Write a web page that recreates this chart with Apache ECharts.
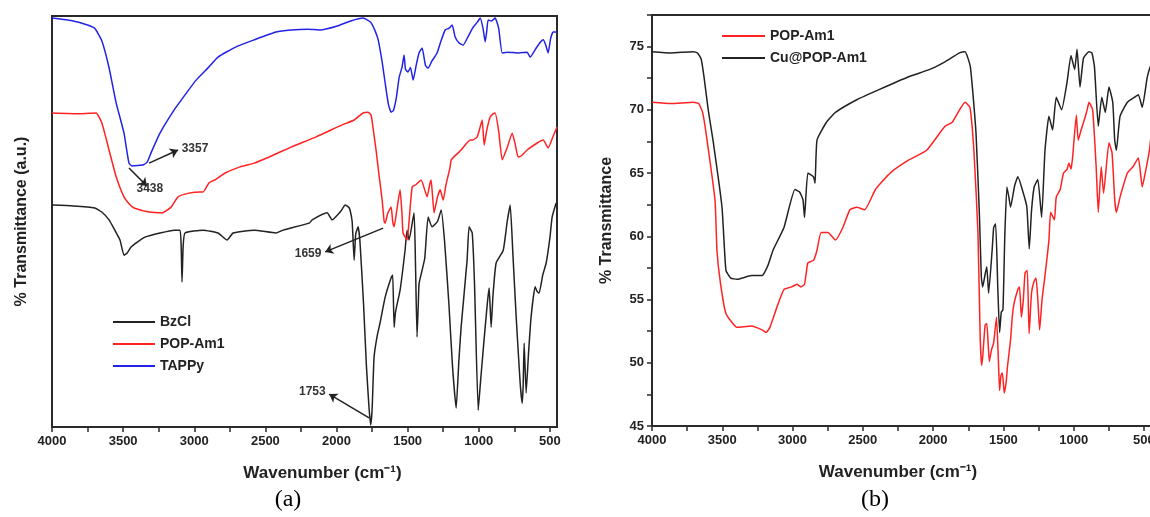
<!DOCTYPE html>
<html>
<head>
<meta charset="utf-8">
<script src="https://cdn.jsdelivr.net/npm/echarts@6/dist/echarts.min.js"></script>
<style>
  html, body { margin: 0; padding: 0; background: #fff; }
  #chart { width: 1150px; height: 517px; }
</style>
</head>
<body>
<div id="chart"></div>
<script>
// panel (a) - stacked spectra, arbitrary units
var tappyWn = [4000,3850,3750,3700,3650,3600,3550,3494,3459,3438,3400,3357,3330,3300,3241,3142,3050,2987,2900,2833,2706,2579,2425,2319,2200,2115,2000,1900,1812,1760,1730,1707,1680,1658,1635,1616,1600,1580,1560,1539,1525,1515,1497,1480,1461,1440,1420,1398,1375,1356,1330,1293,1265,1236,1210,1187,1166,1140,1110,1075,1039,1010,990,970,955,945,934,910,885,860,835,800,720,660,639,600,570,547,530,512,495,477,450];
var tappyT = [99.5,98.8,97.8,97.0,94,87.6,79,71.5,64.2,63.5,63.6,63.8,64.5,67,71.5,77.1,81.5,84.4,87.5,90,92.5,94.2,96.1,96.6,96.8,96.6,97.5,98.8,99.5,98.5,96.5,94.2,89,83.7,78.5,76.6,77,80,85,87.6,90.5,87,86.4,87.5,84.4,88,91,92.2,88,87.3,89,91,94,96.6,97,97.8,94.9,93.5,92.9,95,97.3,98.5,99.5,97,93.7,96,99,98.8,99.5,97,91,91.2,91,91.2,90,92,93.5,94.2,93,91,94.5,96.1,96.1];

var popAWn = [4000,3800,3690,3650,3599,3550,3494,3450,3423,3318,3226,3163,3114,3037,2960,2938,2896,2850,2783,2678,2579,2474,2319,2143,1961,1876,1813,1780,1757,1740,1722,1700,1679,1665,1658,1640,1616,1605,1595,1575,1553,1540,1532,1504,1490,1468,1440,1405,1363,1345,1335,1314,1290,1271,1250,1230,1201,1194,1145,1124,1060,1046,1011,990,976,962,945,920,900,885,860,835,800,765,745,723,700,660,589,547,512,480,450];
var popAT = [76.4,76.2,76.4,74,67.4,61,56,54,53.3,52.3,52.1,53.5,56,56.9,57.2,57.2,59.4,60.2,61.8,63.3,64.2,65.7,68.1,70.6,73.5,74.7,76.4,76.6,75.9,72,67.4,61,55.2,50,49.6,52,53.5,50,48.7,53,57.7,52,47.2,45.5,50,58.4,59,60.1,56,59,60.1,52.1,56,57.7,55.2,59,63.3,65,66.7,67.4,69.8,69.8,70.6,73,74.7,68.6,72,75.4,76.2,76.4,72,65,68,71.5,69,65.7,66,67.4,69.1,69.8,67.9,70.5,73];

var bzclWn = [4000,3850,3700,3650,3599,3560,3522,3494,3473,3444,3400,3346,3241,3142,3100,3092,3086,3078,3065,2938,2833,2769,2727,2579,2425,2375,2192,2171,2066,2031,1970,1939,1915,1905,1890,1876,1865,1848,1835,1810,1790,1772,1760,1750,1736,1715,1694,1658,1616,1605,1595,1585,1553,1518,1504,1490,1455,1445,1434,1425,1419,1380,1356,1328,1290,1264,1240,1210,1185,1159,1140,1124,1082,1068,1046,1030,1004,990,969,940,927,913,900,878,828,800,779,760,737,709,695,688,681,667,650,632,604,590,576,550,526,500,484,456];
var bzclT = [54.0,53.8,53.3,52.3,50.4,48,45.5,41.8,42.3,43.8,45,46.2,47.2,47.9,47.9,44,35.3,44,47.2,47.9,47.2,45.5,47.2,47.9,47.2,47.9,49.6,50.4,52.1,50.4,52.5,54,53.5,52.8,50,40.6,47,48.7,45,30,15,5,0.5,4,17,22,25.3,31.6,36.3,37,24.3,28,33.3,43,47.9,45.5,52.1,40,21.9,30,35,41,51.1,48.7,50,52.8,45,30,15,4.6,16,24.3,40.6,48.7,47.2,35,4.1,10,18.7,30,33.8,24.3,32,39.9,43,50,54,42,26.8,10.7,5.8,10,20.4,8.3,18,26.8,34.1,33,32.6,37,39.9,46,51.1,54.5];

// panel (b) - % transmittance
var cuWn = [4000,3865,3708,3676,3650,3630,3600,3566,3502,3474,3440,3395,3292,3217,3175,3139,3061,2983,2950,2926,2915,2891,2851,2840,2826,2760,2695,2543,2385,2178,2023,1916,1812,1773,1735,1695,1670,1657,1647,1630,1618,1605,1580,1569,1555,1540,1527,1515,1503,1490,1475,1461,1449,1420,1397,1358,1333,1316,1300,1281,1255,1228,1204,1176,1150,1124,1086,1047,1019,993,976,955,930,891,870,852,825,800,775,749,722,708,696,670,618,566,540,512,476,445,400];
var cuT = [74.6,74.5,74.6,74.5,74,72.6,70,67.6,62.3,57.3,56.7,56.6,56.9,56.9,57.7,58.9,60.7,63.7,63.5,62.9,61.5,65,64.7,64.2,67.6,69,69.8,70.8,71.6,72.6,73.2,73.8,74.5,74.6,73.4,68.2,61.5,56.8,56,57,57.6,55.5,58.9,60.7,61,56,52.4,54,54.2,60,63.9,63.1,62.3,64,64.7,63.4,62.3,59,62,63.9,64.5,61.5,66.8,69.5,68.4,71,70,72.2,74.3,73.2,74.8,71.8,74.1,74.6,74.5,73.4,68.7,71,69.8,71.8,70.6,67.6,66.8,69.5,70.6,71,71.2,70.2,72.6,73.7,74.5];

var popBWn = [4000,3865,3708,3668,3640,3616,3552,3538,3513,3474,3395,3292,3217,3189,3161,3111,3061,3006,2969,2941,2915,2891,2851,2826,2797,2748,2695,2642,2592,2543,2487,2410,2306,2178,2046,1916,1866,1812,1773,1738,1710,1681,1665,1655,1647,1630,1618,1600,1585,1569,1549,1535,1527,1517,1507,1494,1480,1471,1449,1437,1424,1397,1385,1372,1358,1346,1330,1317,1300,1283,1268,1255,1242,1225,1205,1176,1164,1137,1124,1096,1072,1047,1034,1019,1007,981,968,947,930,904,891,865,840,825,804,787,749,727,708,696,670,618,578,540,512,491,461,445,400];
var popBT = [70.6,70.5,70.6,70.5,69.8,68.2,62.9,58.9,56.3,53.9,52.8,52.9,52.6,52.4,52.8,54.4,55.8,56,56.2,56,56.2,57.9,58.1,58.9,60.3,60.3,59.7,60.7,62.1,62.3,62.1,63.7,65,66,66.8,68.7,69,70,70.6,70.2,66.8,60.3,52,49.8,50.5,53,53.1,50.1,51,51.6,53.6,50,47.8,49,49.2,47.6,48.5,49.7,51.8,53.6,54.7,55.8,56,53.6,55,57.1,57.3,52.3,55.5,56.4,56.7,55,52.6,55,56.8,59.7,61.9,61.3,63.1,63.7,65,65.3,65.8,65.3,66.3,69.6,67.6,68.4,69,70,70.6,70,65.5,61.9,65.5,63.4,67.4,66.6,62.9,61.9,63.1,65,65.5,66.2,63.9,65,66.8,68.2,70];

var xLabelValues = [500,1000,1500,2000,2500,3000,3500,4000];
var xTickValues = [500,750,1000,1250,1500,1750,2000,2250,2500,2750,3000,3250,3500,3750,4000];
var yLabelValuesB = [45,50,55,60,65,70,75];
var yTickValuesB = [45,47.5,50,52.5,55,57.5,60,62.5,65,67.5,70,72.5,75,77.5];

function pairs(wn, t) {
    return wn.map(function (w, i) { return [w, t[i]]; });
}

var font = 'Liberation Sans, Arial, sans-serif';
var axisColor = '#2a2a2a';

function xAxisOpt(grid, min, max, namePad) {
    return {
        type: 'value',
        gridIndex: grid,
        inverse: true,
        min: min,
        max: max,
        name: 'Wavenumber (cm\u207B\u00B9)',
        nameLocation: 'middle',
        nameGap: 38,
        nameTextStyle: { fontFamily: font, fontWeight: 'bold', fontSize: 17, color: '#222', padding: namePad },
        axisLine: { lineStyle: { color: axisColor, width: 2 } },
        axisTick: { show: true, length: 5, customValues: xTickValues, lineStyle: { color: axisColor, width: 1.5 } },
        axisLabel: {
            customValues: xLabelValues, fontFamily: font, fontWeight: 'bold', fontSize: 13, color: '#222', margin: 8,
            formatter: function (v) { return String(v); }
        },
        splitLine: { show: false }
    };
}

var chart = echarts.init(document.getElementById('chart'));
var option = {
    animation: false,
    backgroundColor: '#fff',
    title: [
        { text: '(a)', left: 283, top: 483, textAlign: 'center',
          textStyle: { fontFamily: 'Liberation Serif, Times New Roman, serif', fontWeight: 'normal', fontSize: 24, color: '#000' } },
        { text: '(b)', left: 870, top: 483, textAlign: 'center',
          textStyle: { fontFamily: 'Liberation Serif, Times New Roman, serif', fontWeight: 'normal', fontSize: 24, color: '#000' } }
    ],
    legend: [
        {
            data: ['BzCl', 'POP-Am1', 'TAPPy'],
            orient: 'vertical',
            left: 108, top: 310,
            icon: 'rect', itemWidth: 42, itemHeight: 2, itemGap: 8,
            textStyle: { fontFamily: font, fontWeight: 'bold', fontSize: 14, color: '#222' }
        },
        {
            data: ['POP-Am1', 'Cu@POP-Am1'],
            orient: 'vertical',
            left: 717, top: 24,
            icon: 'rect', itemWidth: 43, itemHeight: 2, itemGap: 8,
            textStyle: { fontFamily: font, fontWeight: 'bold', fontSize: 14, color: '#222' }
        }
    ],
    grid: [
        { left: 52, width: 505, top: 16, bottom: 90, show: true, borderColor: axisColor, borderWidth: 2,
          containLabel: false, outerBoundsMode: 'none' },
        { left: 652, width: 506, top: 15, bottom: 91, show: true, borderColor: axisColor, borderWidth: 2,
          containLabel: false, outerBoundsMode: 'none' }
    ],
    xAxis: [xAxisOpt(0, 450, 4000, [0, 0, 0, 36]), xAxisOpt(1, 400, 4000, [0, 14, 0, 0])],
    yAxis: [
        {
            type: 'value', gridIndex: 0, min: 0, max: 100,
            name: '% Transmittance (a.u.)',
            nameLocation: 'middle', nameGap: 22,
            nameTextStyle: { fontFamily: font, fontWeight: 'bold', fontSize: 16, color: '#222' },
            axisLine: { show: true, lineStyle: { color: axisColor, width: 2 } },
            axisTick: { show: false },
            axisLabel: { show: false },
            splitLine: { show: false }
        },
        {
            type: 'value', gridIndex: 1, min: 45, max: 77.5, interval: 5,
            name: '% Transmittance',
            nameLocation: 'middle', nameGap: 37,
            nameTextStyle: { fontFamily: font, fontWeight: 'bold', fontSize: 16, color: '#222' },
            axisLine: { show: true, lineStyle: { color: axisColor, width: 2 } },
            axisTick: { show: true, length: 5, customValues: yTickValuesB, lineStyle: { color: axisColor, width: 1.5 } },
            axisLabel: { customValues: yLabelValuesB, fontFamily: font, fontWeight: 'bold', fontSize: 13, color: '#222', margin: 8 },
            splitLine: { show: false }
        }
    ],
    series: [
        {
            name: 'BzCl', type: 'line', xAxisIndex: 0, yAxisIndex: 0,
            data: pairs(bzclWn, bzclT),
            symbol: 'none', smooth: 0.15,
            color: '#222', lineStyle: { color: '#222', width: 1.5 },
            markLine: {
                silent: true, animation: false,
                symbol: ['none', 'arrow'], symbolSize: 8,
                lineStyle: { color: '#222', width: 1.5, type: 'solid' },
                label: { show: true, position: 'end', distance: 4, fontFamily: font, fontWeight: 'bold', fontSize: 12, color: '#333' },
                data: [
                    [{ coord: [3318, 64.2] }, { coord: [3114, 67.4], label: { formatter: '3357' } }],
                    [{ coord: [3459, 63.0] }, { coord: [3332, 58.6], label: { formatter: '3438' } }],
                    [{ coord: [1672, 48.4] }, { coord: [2080, 42.6], label: { formatter: '1659' } }],
                    [{ coord: [1771, 2.2] }, { coord: [2052, 8.0], label: { formatter: '1753' } }]
                ]
            }
        },
        {
            name: 'POP-Am1', type: 'line', xAxisIndex: 0, yAxisIndex: 0,
            data: pairs(popAWn, popAT),
            symbol: 'none', smooth: 0.15,
            color: '#ff2222', lineStyle: { color: '#ff2222', width: 1.5 }
        },
        {
            name: 'TAPPy', type: 'line', xAxisIndex: 0, yAxisIndex: 0,
            data: pairs(tappyWn, tappyT),
            symbol: 'none', smooth: 0.15,
            color: '#2323e6', lineStyle: { color: '#2323e6', width: 1.5 }
        },
        {
            name: 'POP-Am1', type: 'line', xAxisIndex: 1, yAxisIndex: 1,
            data: pairs(popBWn, popBT),
            symbol: 'none', smooth: 0.15,
            color: '#ff2222', lineStyle: { color: '#ff2222', width: 1.5 }
        },
        {
            name: 'Cu@POP-Am1', type: 'line', xAxisIndex: 1, yAxisIndex: 1,
            data: pairs(cuWn, cuT),
            symbol: 'none', smooth: 0.15,
            color: '#222', lineStyle: { color: '#222', width: 1.5 }
        }
    ]
};
chart.setOption(option);
window.addEventListener('resize', function () {
    chart.resize();
});
</script>
</body>
</html>
